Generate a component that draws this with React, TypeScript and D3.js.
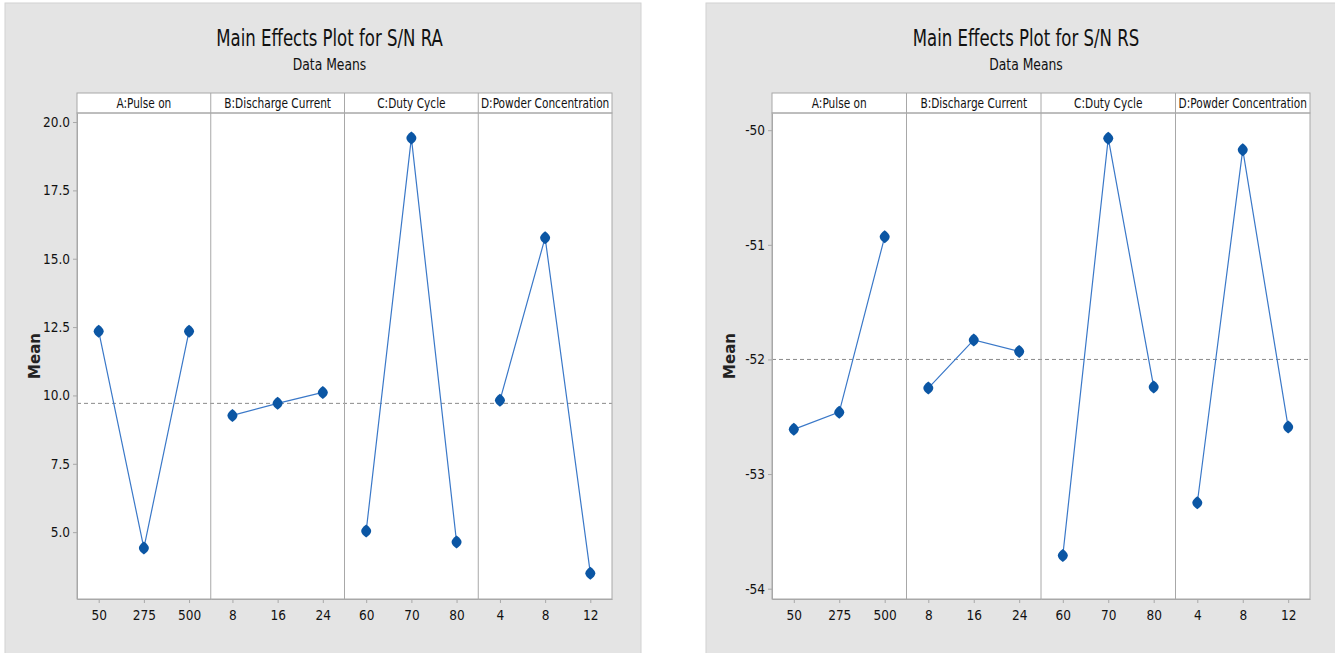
import React, { useEffect, useRef } from 'react';
import * as d3 from 'd3';

// factor names and levels
const factors = ['A:Pulse on', 'B:Discharge Current', 'C:Duty Cycle', 'D:Powder Concentration'];
const levelsA = ['50', '275', '500'];
const levelsB = ['8', '16', '24'];
const levelsC = ['60', '70', '80'];
const levelsD = ['4', '8', '12'];

// S/N RA means
const raA = [12.35, 4.42, 12.35];
const raB = [9.27, 9.71, 10.11];
const raC = [5.04, 19.42, 4.64];
const raD = [9.82, 15.77, 3.5];
const raTicks = [5, 7.5, 10, 12.5, 15, 17.5, 20];

// S/N RS means
const rsA = [-52.61, -52.46, -50.93];
const rsB = [-52.25, -51.83, -51.93];
const rsC = [-53.71, -50.07, -52.24];
const rsD = [-53.25, -50.17, -52.59];
const rsTicks = [-54, -53, -52, -51, -50];

const FONT = "'DejaVu Sans Condensed', 'DejaVu Sans', sans-serif";

// narrow text, anchored at (x, y)
function narrowText(g, txt, x, y, size, sx) {
  return g.append('text').text(txt)
    .attr('transform', 'translate(' + x + ',' + y + ') scale(' + sx + ',1)')
    .attr('text-anchor', 'middle')
    .attr('font-family', FONT).attr('font-size', size).attr('fill', '#111');
}

function drawChart(svg, opt) {
  const levels = [levelsA, levelsB, levelsC, levelsD];
  const g = svg.append('g');

  // gray frame
  g.append('rect')
    .attr('x', opt.boxX).attr('y', 3)
    .attr('width', opt.boxW).attr('height', 660)
    .attr('fill', '#e4e4e4')
    .attr('stroke', '#d2d2d2');

  const cx = (opt.plotL + opt.plotR) / 2 - 15;
  narrowText(g, opt.title, cx, 46, 23, 0.8);
  narrowText(g, 'Data Means', cx, 70, 16, 0.86);

  const top = 113, bottom = 599, headTop = 93;
  const panel = d3.scaleBand().domain(factors).range([opt.plotL, opt.plotR]);
  const y = d3.scaleLinear().domain(opt.yDomain).range([bottom, top]);

  // plot area + header strip
  g.append('rect').attr('x', opt.plotL).attr('y', top)
    .attr('width', opt.plotR - opt.plotL).attr('height', bottom - top)
    .attr('fill', '#fff');
  g.append('rect').attr('x', opt.plotL).attr('y', headTop)
    .attr('width', opt.plotR - opt.plotL).attr('height', top - headTop)
    .attr('fill', '#fff').attr('stroke', '#a8a8a8');

  // mean reference
  g.append('line')
    .attr('x1', opt.plotL).attr('x2', opt.plotR)
    .attr('y1', y(opt.mean)).attr('y2', y(opt.mean))
    .attr('stroke', '#8a8a8a').attr('stroke-dasharray', '4,3');

  factors.forEach((f, i) => {
    const px = panel(f);
    const x = d3.scalePoint().domain(levels[i]).range([px, px + panel.bandwidth()]).padding(0.48);
    const vals = opt.data[i];
    const pts = levels[i].map((l, j) => [x(l), y(vals[j])]);

    if (i > 0) {
      g.append('line').attr('x1', px).attr('x2', px).attr('y1', headTop).attr('y2', bottom)
        .attr('stroke', '#a8a8a8');
    }
    narrowText(g, f, px + panel.bandwidth() / 2, 108, 14, 0.84);

    g.append('path').datum(pts)
      .attr('d', d3.line())
      .attr('fill', 'none').attr('stroke', '#3a78c8').attr('stroke-width', 1.2);

    g.selectAll(null).data(pts).enter().append('path')
      .attr('transform', d => 'translate(' + d[0] + ',' + d[1] + ')')
      .attr('d', 'M0,-6.5Q5,-3 5,0Q5,3 0,6.5Q-5,3 -5,0Q-5,-3 0,-6.5Z')
      .attr('fill', '#0b56a4');

    const xAxis = d3.axisBottom(x).tickSizeInner(4).tickSizeOuter(0).tickPadding(7);
    const ax = g.append('g').attr('transform', 'translate(0,' + bottom + ')').call(xAxis);
    ax.select('.domain').attr('stroke', '#a8a8a8');
    ax.selectAll('line').attr('stroke', '#a8a8a8');
    ax.selectAll('text').attr('font-family', FONT).attr('font-size', 13.5).attr('fill', '#111');
  });

  // outer frame of plot
  g.append('rect').attr('x', opt.plotL).attr('y', top)
    .attr('width', opt.plotR - opt.plotL).attr('height', bottom - top)
    .attr('fill', 'none').attr('stroke', '#a8a8a8');

  const yAxis = d3.axisLeft(y).tickValues(opt.ticks).tickFormat(opt.fmt)
    .tickSizeInner(4).tickSizeOuter(0).tickPadding(3);
  const ay = g.append('g').attr('transform', 'translate(' + opt.plotL + ',0)').call(yAxis);
  ay.select('.domain').attr('stroke', '#a8a8a8');
  ay.selectAll('line').attr('stroke', '#a8a8a8');
  ay.selectAll('text').attr('font-family', FONT).attr('font-size', 13.5).attr('fill', '#111');

  g.append('text').text('Mean')
    .attr('transform', 'translate(' + (opt.plotL - 37) + ',' + ((top + bottom) / 2) + ') rotate(-90)')
    .attr('text-anchor', 'middle')
    .attr('font-family', "'DejaVu Sans', sans-serif").attr('font-weight', 'bold')
    .attr('font-size', 15).attr('fill', '#222');
}

export default function App() {
  const ref = useRef(null);

  useEffect(() => {
    const svg = d3.select(ref.current);
    svg.selectAll('*').remove();
    drawChart(svg, {
      boxX: 5, boxW: 636, plotL: 77, plotR: 612,
      title: 'Main Effects Plot for S/N RA',
      yDomain: [2.555, 20.33], ticks: raTicks, fmt: d3.format('.1f'), mean: 9.71,
      data: [raA, raB, raC, raD],
    });
    drawChart(svg, {
      boxX: 706, boxW: 640, plotL: 772, plotR: 1310,
      title: 'Main Effects Plot for S/N RS',
      yDomain: [-54.09, -49.85], ticks: rsTicks, fmt: d => String(d), mean: -52.0,
      data: [rsA, rsB, rsC, rsD],
    });
  }, []);

  return (
    <svg ref={ref} width={1335} height={653}
      style={{ position: 'absolute', left: 0, top: 0, background: '#fff' }} />
  );
}
